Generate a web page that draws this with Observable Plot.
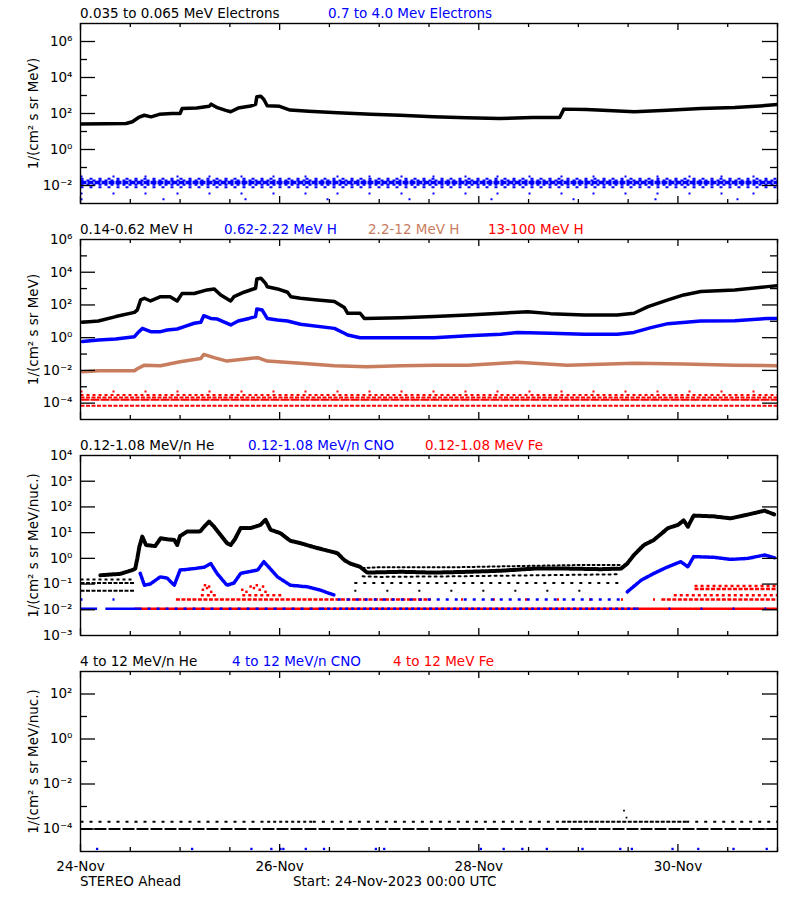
<!DOCTYPE html>
<html><head><meta charset="utf-8">
<script src="https://cdn.jsdelivr.net/npm/d3@7"></script>
<script src="https://cdn.jsdelivr.net/npm/@observablehq/plot@0.6"></script>
<style>
body{margin:0;background:#fff;font-family:"DejaVu Sans",sans-serif;}
#root{position:relative;width:800px;height:900px;overflow:hidden;background:#fff;}
.panel{position:absolute;left:0;}
.t{position:absolute;font-size:13.5px;white-space:nowrap;line-height:1;}
</style></head><body><div id="root"></div>
<script>
// ---------- DATA (hours since 24-Nov-2023 00:00 UTC, flux) ----------
// Panel 1: 0.035-0.065 MeV electrons
const eLow = [[0,26],[6,27],[11,28],[12.5,35],[14,60],[15.4,80],[17,65],[19,90],[22,100],[24,100],[24.5,190],[28,200],[31,250],[31.5,330],[33,210],[35,150],[36.2,125],[38,200],[41,260],[42.2,320],[42.5,850],[43.5,900],[44.2,600],[45,270],[48,250],[50.5,155],[55,135],[62,110],[70,90],[77,80],[85,65],[93,58],[101,52],[109,60],[115.5,60],[116.5,175],[122,165],[133.5,125],[141.5,150],[149.5,190],[157.7,215],[165,275],[168,315]];
// 0.7-4.0 MeV electrons: count levels [from, to, flux, density]
const eHighLevels = [[0,168,3.2e-2,"rare"],[0,168,2.4e-2,"sparse"],[0,168,1.9e-2,"mid"],[0,168,1.45e-2,"core"],[0,168,1.1e-2,"mid"],[0,168,8e-3,"sparse"],[0,168,3.6e-3,"rare"],[0,168,1.7e-3,"rare2"]];

// Panel 2: protons
const hLow = [[0.5,8.7],[4.3,10.5],[8.5,19.5],[13,35],[13.7,50],[14.5,204],[15.4,257],[16.9,175],[19.3,320],[21.6,320],[23.3,175],[24.5,510],[27.4,500],[30.5,830],[32.2,955],[33.8,410],[36.2,175],[37,320],[39.4,600],[42.2,1050],[42.5,3900],[43.5,4300],[44.6,2100],[45,1300],[47.5,955],[49.9,600],[50.7,320],[53,257],[57.1,204],[61.2,160],[63.6,69],[64.4,31],[67.4,31],[68.4,15],[77.3,16.6],[85.2,19.5],[93.4,24.5],[101.3,31],[107.8,39],[113.3,29.5],[121.4,24.5],[129.4,24.5],[133.4,31],[136.8,79],[141.6,204],[145.4,410],[149.5,660],[157.7,830],[165.6,1320],[168,1500]];
const hMid = [[0.5,0.575],[4.3,0.72],[8.5,0.83],[13,1.15],[13.7,1.86],[14.9,3.7],[16.9,2.34],[19.3,2.34],[20.9,2.95],[23.3,3.4],[25,4.7],[27.4,7.6],[29,8.7],[29.7,22],[31.4,15],[33,13.8],[36.2,6.0],[38,10.5],[40.6,15],[42.2,19.5],[42.5,57],[43.8,49],[45,15],[47.5,12],[49.9,10.5],[53,6.6],[61.2,3.7],[63.6,1.86],[64.4,1.45],[67.4,1.0],[77.3,1.0],[85.2,1.0],[93.4,1.3],[101.3,1.6],[105.3,2.1],[113.3,1.86],[121.4,1.6],[129.4,1.6],[133.4,2.1],[137.5,4.1],[141.6,7.2],[149.5,10.5],[157.7,11],[165.6,15],[168,15]];
const hHigh = [[0.5,0.0083],[4.3,0.0095],[13,0.0095],[13.7,0.0126],[15.4,0.021],[19.3,0.0195],[24,0.034],[29,0.054],[29.7,0.095],[32.2,0.06],[35.3,0.037],[38.6,0.047],[42.7,0.06],[45,0.037],[53,0.027],[61.2,0.0195],[69,0.0166],[77.3,0.0195],[85.2,0.021],[93.4,0.021],[105.3,0.031],[117.3,0.021],[133.4,0.027],[145.4,0.025],[157.7,0.021],[168,0.0195]];
const hTopLevels = [[0,168,5.2e-4,"rare"],[0,168,3.1e-4,"mid"],[0,168,2.2e-4,"dense"],[0,168,1.6e-4,"long"],[0,168,7e-5,"dense"]];

// Panel 3: 0.12-1.08 MeV/n heavy ions
const heMain = [[4.8,0.22],[9.6,0.25],[12.5,0.35],[13.2,0.4],[13.7,1.0],[14.2,2.9],[14.9,7],[15.8,3.3],[18,3.0],[19.3,6],[21,5.5],[22.6,5.2],[23.3,3.3],[24,7.4],[25.7,11],[28.8,11],[29.8,17],[31,27],[32.2,17],[33.8,8],[35.3,3.9],[36.2,3.3],[37.2,5.5],[38.6,15],[41,15],[43.4,20],[44.6,32],[45.8,13],[48.2,9.5],[50.6,4.8],[53,3.9],[56.4,2.7],[59.5,2.0],[61.9,1.6],[63.6,0.85],[65,0.63],[67.4,0.47],[69.1,0.28],[77.3,0.3],[85.2,0.28],[93.4,0.3],[101.3,0.33],[109.4,0.4],[117.3,0.4],[125.5,0.38],[130.3,0.4],[131.8,0.63],[133.4,1.35],[135.8,3.3],[138.2,5.2],[141.6,15],[144,20],[145.4,30],[146.4,17],[147.8,46],[152.6,43],[156.7,36],[160.8,50],[164.9,72],[167.3,50]];
const heCloudHi = [[68,0.42],[72,0.45],[90,0.45],[105,0.5],[120,0.55],[130,0.55]];
const heCloudLo = [[68,0.2],[72,0.19],[90,0.2],[110,0.22],[130,0.24]];
const heBg = [[0,13,0.15,"mid"],[0,13,0.11,"dense"],[0,13,0.055,"dense"],[66,131,0.11,"sparse"],[66,125,0.055,"rare"]];
const cnoMain = [[14.4,0.26],[15.4,0.09],[16.8,0.1],[19.2,0.19],[20.9,0.17],[22.6,0.09],[24,0.35],[27.4,0.4],[29.8,0.45],[31.4,0.63],[32.9,0.26],[35.3,0.09],[37,0.11],[38.6,0.26],[42.7,0.35],[44.2,0.74],[47.5,0.19],[50.6,0.09],[54.7,0.078],[57.8,0.058],[61.2,0.037]];
const cnoMain2 = [[131.8,0.05],[135.1,0.14],[138.2,0.26],[141.6,0.47],[144.7,0.74],[146.4,0.47],[147.8,1.17],[152.6,1.1],[156.7,0.91],[160.8,1.0],[164.9,1.35],[167.3,1.05]];
const cnoBg = [[0,15,0.025,"rare"],[62,131,0.025,"sparse"],[0,4,0.011,"solid"],[6,14,0.011,"solid"],[14,58,0.011,"sparse"],[58,134,0.011,"mid"],[134,168,0.011,"rare"]];
const feEvent = [[29.5,0.06],[30,0.09],[30.5,0.07],[31,0.08],[31.5,0.05],[39,0.06],[40,0.05],[41,0.08],[41.8,0.07],[42.5,0.09],[43.2,0.06],[44,0.08],[44.6,0.05]];
const feBg = [[13,168,0.011,"solid"],[23,84,0.025,"dense"],[84,140,0.025,"rare"],[140,168,0.025,"dense"],[143,168,0.037,"mid"],[29,33,0.037,"mid"],[39,49,0.037,"mid"],[148,168,0.085,"mid"],[148,168,0.065,"dense"]];

// Panel 4: 4-12 MeV/n heavy ions
const he4Levels = [[0,168,1e-4,"line"],[0,45,2.1e-4,"sparse"],[45,56,2.1e-4,"mid"],[56,116,2.1e-4,"sparse"],[116,146,2.1e-4,"dense"],[146,168,2.1e-4,"sparse"]];
const he4Spike = [[131,6.5e-4],[131.6,3.2e-4]];
const cno4Hours = [4.0,26.9,41.2,46.0,48.2,48.9,54.3,58.7,71.2,73.2,96.5,102.0,106.5,112.4,121.0,130.1,132.9,142.7,148.9,157.4,165.4];
const cno4Level = 1.3e-5;

// axis labels
const dayLabels = ["24-Nov","26-Nov","28-Nov","30-Nov"];

// ---------- STYLE ----------
const START = Date.UTC(2023,10,24);
const t = h => new Date(START + h*3600e3);
const dash = {core:"6,1", long:"9,1", dense:"4,1.5", mid:"3,3", sparse:"3,6", rare:"2,30", rare2:"2,80", line:"12,2", solid:null};
const dashW = {core:3.5};
const BLUE="#0000ff", RED="#ff0000", SIENNA="#c97d5f";
const sup = {"-":"⁻","0":"⁰","1":"¹","2":"²","3":"³","4":"⁴","5":"⁵","6":"⁶","7":"⁷","8":"⁸","9":"⁹"};
const fmt = v => "10" + String(Math.round(Math.log10(v))).split("").map(c=>sup[c]).join("");
const pw10 = (a,b) => d3.range(a,b+1).map(e=>Math.pow(10,e));

function levelMarks(arr, color, w=2){
  return Object.keys(dash).map(k => Plot.link(arr.filter(d=>d[3]===k), {
    x1:d=>t(d[0]), x2:d=>t(d[1]), y1:d=>d[2], y2:d=>d[2],
    stroke:color, strokeWidth:dashW[k]||w, strokeDasharray:dash[k], clip:true}));
}
function curve(arr, color, w=3.5, da=null){
  return Plot.line(arr, {x:d=>t(d[0]), y:d=>d[1], stroke:color, strokeWidth:w, strokeDasharray:da, clip:true});
}

function panel({domain, majors, labels, minors, ylabel, marks, xaxis=false}){
  const W=800, ml=80, mr=23, mt=10, mb = xaxis?40:10, ph=180;
  const H = ph+mt+mb, pwid=W-ml-mr;
  const half = d3.range(0,169,12).filter(h=>h%48!==0).map(t);
  const two = d3.range(0,169,48).map(t);
  const m = [
    ...marks,
    Plot.frame({stroke:"#000", strokeWidth:1.4}),
    Plot.ruleY(majors, {insetRight:pwid-15, stroke:"#000", strokeWidth:1.3}),
    Plot.ruleY(majors, {insetLeft:pwid-15, stroke:"#000", strokeWidth:1.3}),
    Plot.ruleY(minors, {insetRight:pwid-7, stroke:"#000", strokeWidth:1.3}),
    Plot.ruleY(minors, {insetLeft:pwid-7, stroke:"#000", strokeWidth:1.3}),
    Plot.ruleX(half, {x:d=>d, insetTop:ph-4, stroke:"#000", strokeWidth:1.3}),
    Plot.ruleX(half, {x:d=>d, insetBottom:ph-4, stroke:"#000", strokeWidth:1.3}),
    Plot.ruleX(two, {x:d=>d, insetTop:ph-7, stroke:"#000", strokeWidth:1.3}),
    Plot.ruleX(two, {x:d=>d, insetBottom:ph-7, stroke:"#000", strokeWidth:1.3}),
    Plot.axisY(labels, {tickSize:0, tickPadding:8, tickFormat:fmt, label:null, fontSize:13.5}),
    Plot.text([ylabel], {frameAnchor:"left", dx:-47, rotate:-90, textAnchor:"middle", lineAnchor:"middle", text:d=>d, fontSize:13.5, fill:"#000"})
  ];
  if (xaxis) m.push(Plot.axisX(two, {tickSize:0, tickPadding:10, tickFormat:(d,i)=>dayLabels[i], label:null, fontSize:13.5}));
  return Plot.plot({
    width:W, height:H, marginLeft:ml, marginRight:mr, marginTop:mt, marginBottom:mb,
    x:{type:"utc", domain:[t(0), t(168)], axis: xaxis? undefined : null},
    y:{type:"log", domain},
    style:{fontFamily:"DejaVu Sans", fontSize:"13.5px", color:"#000", background:"transparent"},
    marks:m
  });
}

const root = document.getElementById("root");
function place(el, top){ el.classList.add("panel"); el.style.top = top+"px"; root.appendChild(el); }
function title(items, y){
  for (const [txt,x,c] of items){
    const d=document.createElement("div"); d.className="t"; d.textContent=txt;
    d.style.left=x+"px"; d.style.top=(y-6.5)+"px"; d.style.color=c; root.appendChild(d);
  }
}

const YL1 = "1/(cm² s sr MeV)", YL2 = "1/(cm² s sr MeV/nuc.)";

place(panel({domain:[1e-3,1e7], majors:[1e-2,1,1e2,1e4,1e6], labels:[1e-2,1,1e2,1e4,1e6], minors:[1e-1,1e1,1e3,1e5], ylabel:YL1,
  marks:[...levelMarks(eHighLevels, BLUE), curve(eLow,"#000")]}), 13);
place(panel({domain:[1e-5,1e6], majors:[1e-4,1e-2,1,1e2,1e4], labels:[1e-4,1e-2,1,1e2,1e4,1e6], minors:[1e-3,1e-1,1e1,1e3,1e5], ylabel:YL1,
  marks:[...levelMarks(hTopLevels, RED), curve(hHigh,SIENNA), curve(hMid,BLUE), curve(hLow,"#000")]}), 229);
place(panel({domain:[1e-3,1e4], majors:pw10(-2,3), labels:pw10(-3,4), minors:[], ylabel:YL2,
  marks:[...levelMarks(heBg,"#000"), curve(heCloudHi,"#000",2,"2,3"), curve(heCloudLo,"#000",2,"2,4"), curve(heMain,"#000",4,"2,1.2"),
    ...levelMarks(feBg, RED, 2.5), ...levelMarks(cnoBg, BLUE, 2.5),
    curve(cnoMain,BLUE,3.5,"2.5,1.5"), curve(cnoMain2,BLUE,3.5,"2.5,1.5"),
    Plot.dot(feEvent,{x:d=>t(d[0]), y:d=>d[1], fill:RED, r:1.4, symbol:"square"})]}), 445);
place(panel({domain:[1e-5,1e3], majors:[1e-4,1e-2,1,1e2], labels:[1e-4,1e-2,1,1e2], minors:[1e-3,1e-1,1e1], ylabel:YL2, xaxis:true,
  marks:[...levelMarks(he4Levels,"#000",1.8), Plot.dot(he4Spike,{x:d=>t(d[0]),y:d=>d[1],fill:"#000",r:1,symbol:"square"}),
    Plot.dot(cno4Hours,{x:d=>t(d), y:()=>cno4Level, fill:BLUE, r:1.3, symbol:"square"})]}), 661);

title([["0.035 to 0.065 MeV Electrons",80,"#000"],["0.7 to 4.0 Mev Electrons",328,BLUE]], 13);
title([["0.14-0.62 MeV H",80,"#000"],["0.62-2.22 MeV H",224,BLUE],["2.2-12 MeV H",368,SIENNA],["13-100 MeV H",488,RED]], 229);
title([["0.12-1.08 MeV/n He",80,"#000"],["0.12-1.08 MeV/n CNO",248,BLUE],["0.12-1.08 MeV Fe",425,RED]], 445);
title([["4 to 12 MeV/n He",80,"#000"],["4 to 12 MeV/n CNO",232,BLUE],["4 to 12 MeV Fe",393,RED]], 661);
title([["STEREO Ahead",80,"#000"],["Start: 24-Nov-2023 00:00 UTC",293,"#000"]], 881);
</script></body></html>
